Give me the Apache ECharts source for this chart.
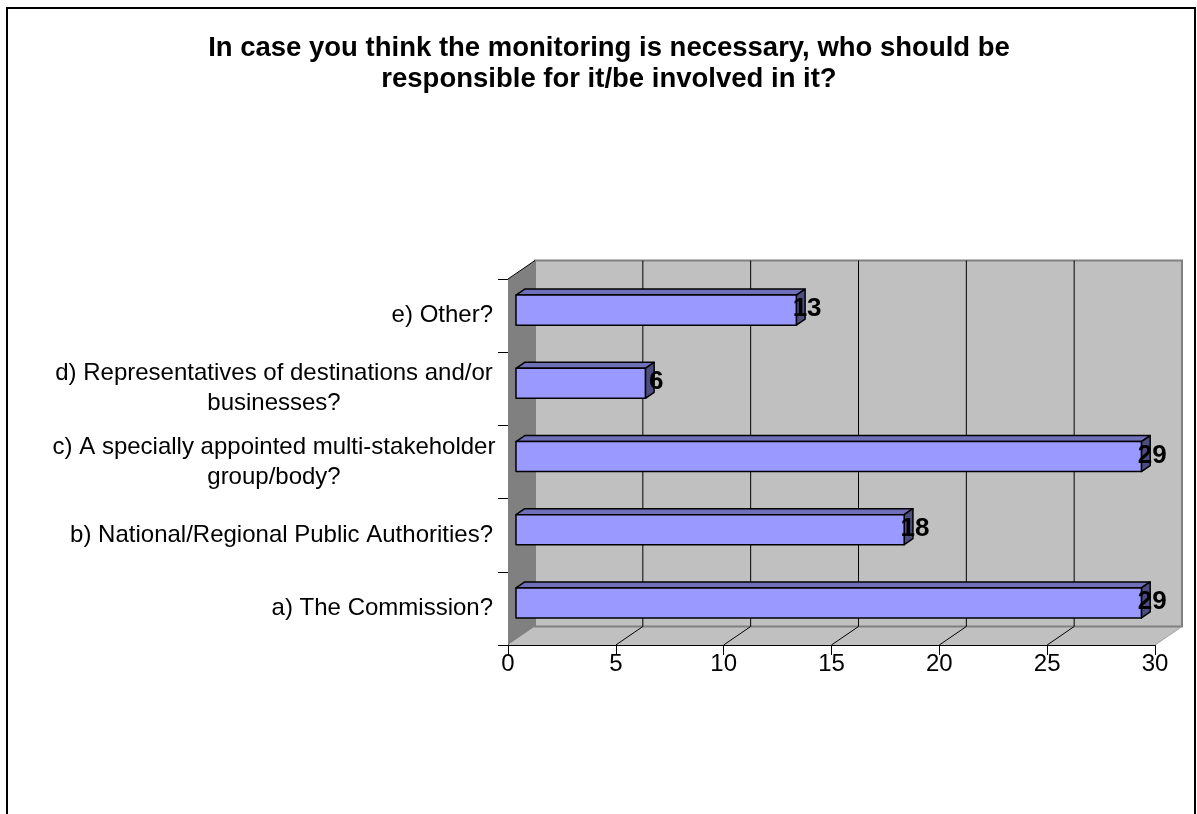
<!DOCTYPE html>
<html>
<head>
<meta charset="utf-8">
<script src="https://cdn.jsdelivr.net/npm/echarts@6/dist/echarts.min.js"></script>
<style>
html,body{margin:0;padding:0;background:#fff;}
#chart{width:1197px;height:814px;}
</style>
</head>
<body>
<div id="chart"></div>
<script>
// ---- data ----
const titleLines = ['In case you think the monitoring is necessary, who should be', 'responsible for it/be involved in it?'];
const categories = [
  'a) The Commission?',
  'b) National/Regional Public Authorities?',
  'c) A specially appointed multi-stakeholder\ngroup/body?',
  'd) Representatives of destinations and/or\nbusinesses?',
  'e) Other?'
];
const values = [29, 18, 29, 6, 13];
const xTicks = [0, 5, 10, 15, 20, 25, 30];

// ---- styling constants ----
const FONT = '"Liberation Sans", Arial, sans-serif';
const DX = 27, DY = -18.5;      // 3D depth offset
const F1 = 0.296, F2 = 0.62;    // bar depth fractions
const BAR_FRAC = 0.41;

const measureCanvas = document.createElement('canvas').getContext('2d');
measureCanvas.font = '24px ' + FONT;
function textW(s) { return Math.ceil(measureCanvas.measureText(s).width); }

const chart = echarts.init(document.getElementById('chart'), null, {renderer: 'canvas'});

const barData = values.map((v, i) => [v, i]);

const option = {
  backgroundColor: '#fff',
  animation: false,
  title: {
    text: titleLines.join('\n'),
    left: 604,
    top: 28,
    textAlign: 'center',
    textStyle: {fontFamily: FONT, fontSize: 27.5, fontWeight: 'bold', color: '#000', lineHeight: 31}
  },
  graphic: [{
    type: 'rect', silent: true, z: 100,
    shape: {x: 7, y: 8, width: 1188, height: 830},
    style: {fill: 'none', stroke: '#000', lineWidth: 2}
  }],
  grid: {left: 508, right: 42, top: 279, bottom: 169, containLabel: false},
  xAxis: {
    type: 'value', min: 0, max: 30, interval: 5,
    axisLine: {show: true, lineStyle: {color: '#000', width: 1}},
    axisTick: {show: true, length: 10, lineStyle: {color: '#000'}},
    splitLine: {show: false},
    axisLabel: {margin: 7, fontFamily: FONT, fontSize: 24, color: '#000',
      formatter: v => xTicks.indexOf(v) >= 0 ? String(v) : ''}
  },
  yAxis: {
    type: 'category', data: categories,
    axisLine: {show: true, lineStyle: {color: '#000', width: 1}},
    axisTick: {show: true, length: 10, lineStyle: {color: '#000'}},
    splitLine: {show: false},
    axisLabel: {
      margin: 15, fontFamily: FONT, fontSize: 24, color: '#000', lineHeight: 30,
      formatter: function (s) {
        if (s.indexOf('\n') < 0) return s;
        const lines = s.split('\n');
        return lines.map(l => '{m|' + l + '}').join('\n');
      },
      rich: {
        m: {fontFamily: FONT, fontSize: 24, color: '#000', lineHeight: 30, align: 'center',
            width: textW('d) Representatives of destinations and/or')}
      }
    }
  },
  series: [
    {
      type: 'custom', z: 1, silent: true,
      data: [[0, 0]],
      renderItem: function (params, api) {
        const band = api.size([0, 1])[1];
        const p0 = api.coord([0, 0]);
        const xL = p0[0];
        const xR = api.coord([30, 0])[0];
        const yB = p0[1] + band / 2;
        const yT = api.coord([0, categories.length - 1])[1] - band / 2;
        const ch = [];
        // floor
        ch.push({type: 'polygon', shape: {points: [[xL, yB], [xL + DX, yB + DY], [xR + DX, yB + DY], [xR, yB]]},
          style: {fill: '#C0C0C0', stroke: null}});
        // back wall
        ch.push({type: 'rect', shape: {x: xL + DX, y: yT + DY, width: xR - xL, height: yB - yT},
          style: {fill: '#C0C0C0', stroke: '#808080', lineWidth: 2}});
        // left wall
        ch.push({type: 'polygon', shape: {points: [[xL, yT], [xL + DX, yT + DY], [xL + DX, yB + DY], [xL, yB]]},
          style: {fill: '#808080', stroke: null}});
        ch.push({type: 'line', shape: {x1: xL, y1: yT, x2: xL + DX, y2: yT + DY},
          style: {stroke: '#000', lineWidth: 1}});
        // floor right edge
        ch.push({type: 'line', shape: {x1: xR, y1: yB, x2: xR + DX, y2: yB + DY},
          style: {stroke: '#A0A0A0', lineWidth: 1}});
        // grid lines
        xTicks.forEach(t => {
          if (t === 0 || t === 30) return;
          const x = api.coord([t, 0])[0];
          ch.push({type: 'line', shape: {x1: x, y1: yB, x2: x + DX, y2: yB + DY}, style: {stroke: '#000', lineWidth: 1}});
          ch.push({type: 'line', shape: {x1: x + DX, y1: yB + DY, x2: x + DX, y2: yT + DY}, style: {stroke: '#000', lineWidth: 1}});
        });
        return {type: 'group', children: ch};
      }
    },
    {
      type: 'custom', z: 3, silent: true,
      encode: {x: 0, y: 1},
      data: barData,
      renderItem: function (params, api) {
        const v = api.value(0), idx = api.value(1);
        const band = api.size([0, 1])[1];
        const base = api.coord([0, idx]);
        const end = api.coord([v, idx]);
        const h = band * BAR_FRAC;
        const fx0 = base[0] + DX * F1, fx1 = end[0] + DX * F1;
        const fyT = base[1] + DY * F1 - h / 2, fyB = fyT + h;
        const bdx = DX * (F2 - F1), bdy = DY * (F2 - F1);
        const st = {stroke: '#000', lineWidth: 1.5, lineJoin: 'round'};
        return {type: 'group', children: [
          {type: 'polygon', shape: {points: [[fx0, fyT], [fx0 + bdx, fyT + bdy], [fx1 + bdx, fyT + bdy], [fx1, fyT]]},
            style: Object.assign({fill: '#7070BA'}, st)},
          {type: 'polygon', shape: {points: [[fx1, fyT], [fx1 + bdx, fyT + bdy], [fx1 + bdx, fyB + bdy], [fx1, fyB]]},
            style: Object.assign({fill: '#4D4D80'}, st)},
          {type: 'rect', shape: {x: fx0, y: fyT, width: fx1 - fx0, height: fyB - fyT},
            style: Object.assign({fill: '#9999FF'}, st)},
          {type: 'text', z2: 10, style: {text: String(v), x: fx1 + bdx + 2, y: (fyT + fyB) / 2 - 1,
            align: 'center', verticalAlign: 'middle', font: 'bold 26px ' + FONT, fill: '#000'}}
        ]};
      }
    }
  ]
};
chart.setOption(option);
</script>
</body>
</html>
